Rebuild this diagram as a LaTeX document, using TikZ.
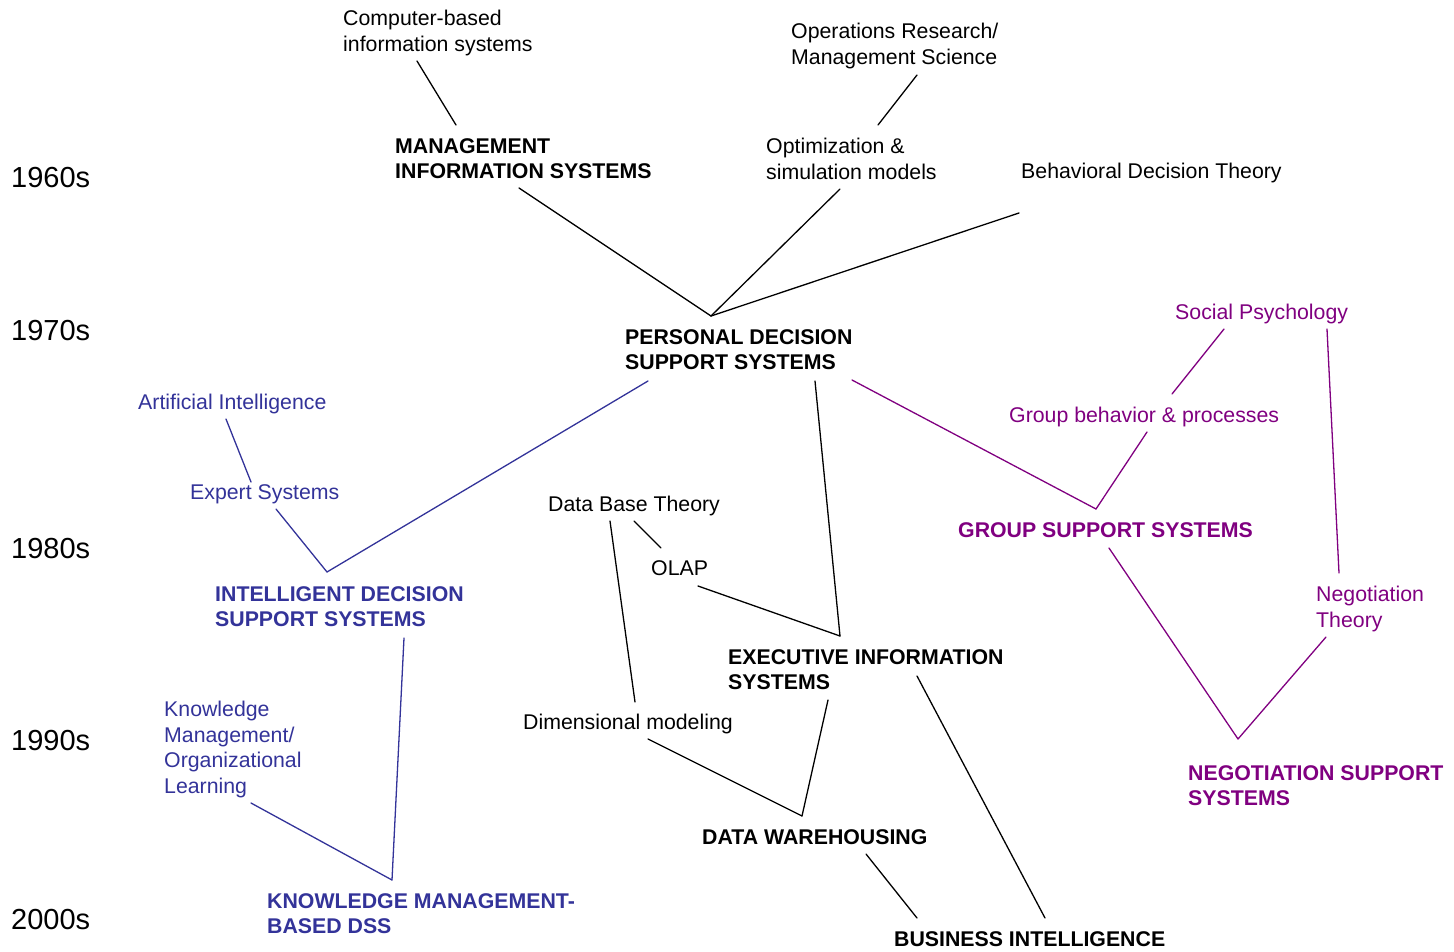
\documentclass[tikz,border=0pt]{standalone}
\usepackage{fontspec}
\setmainfont{Liberation Sans}
\definecolor{dssblue}{RGB}{51,51,153}
\definecolor{dsspurple}{RGB}{128,0,128}
\tikzset{
  lbl/.style={anchor=north west, inner sep=0pt, align=left, font=\fontsize{21.3}{25.5}\selectfont},
  hdr/.style={anchor=north west, inner sep=0pt, align=left, font=\fontsize{21.3}{25.8}\selectfont\bfseries},
  yr/.style={anchor=north west, inner sep=0pt, font=\fontsize{29}{34}\selectfont},
  conn/.style={line width=1.3pt, line cap=round},
}
\begin{document}
\begin{tikzpicture}[x=1pt,y=-1pt]
\useasboundingbox (0,0) rectangle (1454,951);
% years
\node[yr] (y60) at (11,167) {1960s};
\node[yr] (y70) at (11,320) {1970s};
\node[yr] (y80) at (11,538) {1980s};
\node[yr] (y90) at (11,730) {1990s};
\node[yr] (y00) at (11,909) {2000s};
% black labels
\node[lbl] (cbis) at (343,10) {Computer-based\\information systems};
\node[hdr] (mis) at (395,138) {MANAGEMENT\\INFORMATION SYSTEMS};
\node[lbl] (orms) at (791,23) {Operations Research/\\Management Science};
\node[lbl] (opt) at (766,138) {Optimization \&\\simulation models};
\node[lbl] (bdt) at (1021,163) {Behavioral Decision Theory};
\node[hdr] (pdss) at (625,329) {PERSONAL DECISION\\SUPPORT SYSTEMS};
\node[lbl] (dbt) at (548,496) {Data Base Theory};
\node[lbl] (olap) at (651,560) {OLAP};
\node[hdr] (eis) at (728,649) {EXECUTIVE INFORMATION\\SYSTEMS};
\node[lbl] (dim) at (523,714) {Dimensional modeling};
\node[hdr] (dw) at (702,829) {DATA WAREHOUSING};
\node[hdr] (bi) at (894,931) {BUSINESS INTELLIGENCE};
% blue labels
\node[lbl, text=dssblue] (ai) at (138,394) {Artificial Intelligence};
\node[lbl, text=dssblue] (es) at (190,484) {Expert Systems};
\node[hdr, text=dssblue] (idss) at (215,586) {INTELLIGENT DECISION\\SUPPORT SYSTEMS};
\node[lbl, text=dssblue] (km) at (164,701) {Knowledge\\Management/\\Organizational\\Learning};
\node[hdr, text=dssblue] (kmdss) at (267,893) {KNOWLEDGE MANAGEMENT-\\BASED DSS};
% purple labels
\node[lbl, text=dsspurple] (sp) at (1175,304) {Social Psychology};
\node[lbl, text=dsspurple] (gb) at (1009,407) {Group behavior \& processes};
\node[hdr, text=dsspurple] (gss) at (958,522) {GROUP SUPPORT SYSTEMS};
\node[lbl, text=dsspurple] (nt) at (1316,586) {Negotiation\\Theory};
\node[hdr, text=dsspurple] (nss) at (1188,765) {NEGOTIATION SUPPORT\\SYSTEMS};
% connector end points
\coordinate (cbis-s) at (417,61);
\coordinate (mis-n) at (456,125);
\coordinate (mis-s) at (519,188);
\coordinate (pdss-n) at (711,316);
\coordinate (orms-s) at (917,75);
\coordinate (opt-n) at (878,125);
\coordinate (opt-s) at (840,189);
\coordinate (bdt-s) at (1019,213);
\coordinate (pdss-sw) at (648,381);
\coordinate (pdss-s) at (815,381);
\coordinate (pdss-se) at (852,380);
\coordinate (ai-s) at (226,419);
\coordinate (es-n) at (251,482);
\coordinate (es-s) at (276,509);
\coordinate (idss-n) at (327,572);
\coordinate (idss-s) at (404,638);
\coordinate (km-s) at (251,803);
\coordinate (kmdss-n) at (392,880);
\coordinate (dbt-s1) at (610,521);
\coordinate (dbt-s2) at (634,521);
\coordinate (olap-n) at (661,548);
\coordinate (olap-e) at (698,586);
\coordinate (eis-n) at (840,636);
\coordinate (eis-s1) at (828,700);
\coordinate (eis-s2) at (917,676);
\coordinate (dim-n) at (635,702);
\coordinate (dim-s) at (648,739);
\coordinate (dw-n) at (802,816);
\coordinate (dw-s) at (866,854);
\coordinate (bi-n1) at (917,918);
\coordinate (bi-n2) at (1045,918);
\coordinate (sp-s1) at (1224,329);
\coordinate (sp-s2) at (1327,329);
\coordinate (gb-n) at (1172,394);
\coordinate (gb-s) at (1147,432);
\coordinate (gss-n) at (1096,509);
\coordinate (gss-s) at (1109,548);
\coordinate (nt-n) at (1339,573);
\coordinate (nt-s) at (1326,637);
\coordinate (nss-n) at (1238,739);
% black connectors
\draw[conn] (cbis-s) -- (mis-n);
\draw[conn] (mis-s) -- (pdss-n);
\draw[conn] (opt-s) -- (pdss-n);
\draw[conn] (bdt-s) -- (pdss-n);
\draw[conn] (orms-s) -- (opt-n);
\draw[conn] (pdss-s) -- (eis-n);
\draw[conn] (dbt-s2) -- (olap-n);
\draw[conn] (olap-e) -- (eis-n);
\draw[conn] (dbt-s1) -- (dim-n);
\draw[conn] (dim-s) -- (dw-n);
\draw[conn] (eis-s1) -- (dw-n);
\draw[conn] (eis-s2) -- (bi-n2);
\draw[conn] (dw-s) -- (bi-n1);
% blue connectors
\draw[conn, dssblue] (pdss-sw) -- (idss-n);
\draw[conn, dssblue] (ai-s) -- (es-n);
\draw[conn, dssblue] (es-s) -- (idss-n);
\draw[conn, dssblue] (idss-s) -- (kmdss-n);
\draw[conn, dssblue] (km-s) -- (kmdss-n);
% purple connectors
\draw[conn, dsspurple] (pdss-se) -- (gss-n);
\draw[conn, dsspurple] (sp-s1) -- (gb-n);
\draw[conn, dsspurple] (gb-s) -- (gss-n);
\draw[conn, dsspurple] (sp-s2) -- (nt-n);
\draw[conn, dsspurple] (gss-s) -- (nss-n);
\draw[conn, dsspurple] (nt-s) -- (nss-n);
\end{tikzpicture}
\end{document}
